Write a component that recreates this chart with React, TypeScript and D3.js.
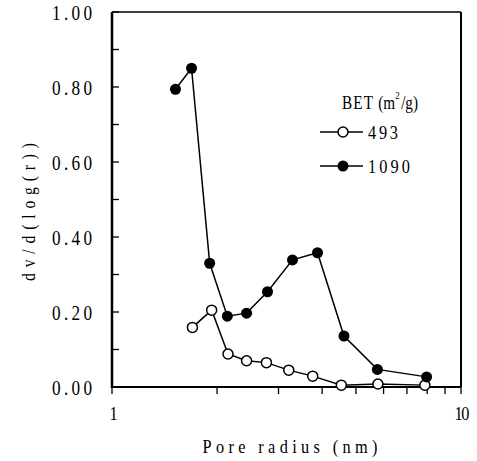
import React from "react";
import * as d3 from "d3";

const radius1090 = [1.52, 1.69, 1.905, 2.14, 2.43, 2.79, 3.29, 3.88, 4.62, 5.76, 7.97];
const values1090 = [0.794, 0.85, 0.33, 0.189, 0.197, 0.254, 0.339, 0.358, 0.136, 0.047, 0.027];
const radius493 = [1.7, 1.93, 2.15, 2.43, 2.77, 3.21, 3.76, 4.54, 5.78, 7.88];
const values493 = [0.159, 0.205, 0.088, 0.07, 0.065, 0.045, 0.029, 0.005, 0.008, 0.005];
const yTickLabels = ["0.00", "0.20", "0.40", "0.60", "0.80", "1.00"];
const yTicks = [0, 0.2, 0.4, 0.6, 0.8, 1.0];
const yMinorTicks = [0.1, 0.3, 0.5, 0.7, 0.9];
const xTicks = [1, 2, 3, 4, 5, 6, 7, 8, 9, 10];
const xTickLabels = [{ v: 1, t: "1" }, { v: 10, t: "10" }];

const W = 477, H = 461;
const L = 112, R = 461, T = 12, B = 387;
const FONT = "'Liberation Serif', 'Times New Roman', serif";

function CText(props: { x: number; y: number; text: string; size: number; width?: number; anchor?: string; sx?: number; rotate?: number }) {
  const { x, y, text, size, width, anchor = "start", sx = 0.86, rotate = 0 } = props;
  return (
    <text
      transform={`translate(${x},${y}) rotate(${rotate}) scale(${sx},1)`}
      textAnchor={anchor}
      dominantBaseline="central"
      fontFamily={FONT}
      fontSize={size}
      textLength={width ? width / sx : undefined}
      lengthAdjust="spacing"
      fill="#000"
    >
      {text}
    </text>
  );
}

export default function App() {
  const x = d3.scaleLog().domain([1, 10]).range([L, R]);
  const y = d3.scaleLinear().domain([0, 1]).range([B, T]);
  const line = d3.line<[number, number]>().x(d => x(d[0])).y(d => y(d[1]));
  const s1090 = radius1090.map((r, i) => [r, values1090[i]] as [number, number]);
  const s493 = radius493.map((r, i) => [r, values493[i]] as [number, number]);

  return (
    <svg width={W} height={H} style={{ position: "absolute", left: 0, top: 0, background: "#fff" }}>
      {/* frame */}
      <line x1={L} y1={T} x2={R} y2={T} stroke="#000" strokeWidth={1.5} />
      <line x1={R} y1={T} x2={R} y2={B} stroke="#000" strokeWidth={2} />
      <line x1={L} y1={B} x2={R} y2={B} stroke="#000" strokeWidth={2} />
      <line x1={L} y1={T} x2={L} y2={B + 1} stroke="#000" strokeWidth={2.5} />
      {/* y ticks */}
      {yTicks.concat(yMinorTicks).map((v, i) => (
        <line key={"yt" + i} x1={L} x2={L + 7} y1={y(v)} y2={y(v)} stroke="#000" strokeWidth={1.3} />
      ))}
      {yTicks.map((v, i) => (
        <CText key={"yl" + i} x={92} y={y(v) + 1} anchor="end" size={20} width={40} text={yTickLabels[i]} />
      ))}
      {/* x ticks */}
      {xTicks.map((v, i) => (
        <line key={"xt" + i} x1={x(v)} x2={x(v)} y1={B} y2={B + 7} stroke="#000" strokeWidth={1.3} />
      ))}
      {xTickLabels.map((d, i) => (
        <CText key={"xl" + i} x={d.v === 10 ? 462 : 113.5} y={414} anchor="middle" size={19}
          width={d.v === 10 ? 15 : undefined} text={d.t} />
      ))}
      {/* axis titles */}
      <CText x={290} y={447} anchor="middle" size={19} width={175} text="Pore radius (nm)" />
      <CText x={29} y={212} anchor="middle" size={18} width={138} rotate={-90} text="dv/d(log(r))" />
      {/* series */}
      <path d={line(s493) || ""} fill="none" stroke="#000" strokeWidth={1.5} />
      <path d={line(s1090) || ""} fill="none" stroke="#000" strokeWidth={1.5} />
      {s493.map((d, i) => (
        <circle key={"o" + i} cx={x(d[0])} cy={y(d[1])} r={5} fill="#fff" stroke="#000" strokeWidth={1.5} />
      ))}
      {s1090.map((d, i) => (
        <circle key={"f" + i} cx={x(d[0])} cy={y(d[1])} r={5.5} fill="#000" />
      ))}
      {/* legend */}
      <text transform="translate(342,102) scale(0.8,1)" dominantBaseline="central" fontFamily={FONT} fontSize={19}>
        <tspan letterSpacing={1.5}>BET</tspan>
        <tspan dx={5}>(m</tspan>
        <tspan fontSize={11} dy={-7}>2</tspan>
        <tspan dy={7} dx={2}>/g)</tspan>
      </text>
      <line x1={320} x2={363} y1={132} y2={132} stroke="#000" strokeWidth={1.5} />
      <circle cx={343} cy={132} r={5} fill="#fff" stroke="#000" strokeWidth={1.5} />
      <CText x={368} y={133} size={19} width={30} text="493" />
      <line x1={320} x2={363} y1={166} y2={166} stroke="#000" strokeWidth={1.5} />
      <circle cx={343} cy={166} r={5.5} fill="#000" />
      <CText x={368} y={167} size={19} width={42} text="1090" />
    </svg>
  );
}
